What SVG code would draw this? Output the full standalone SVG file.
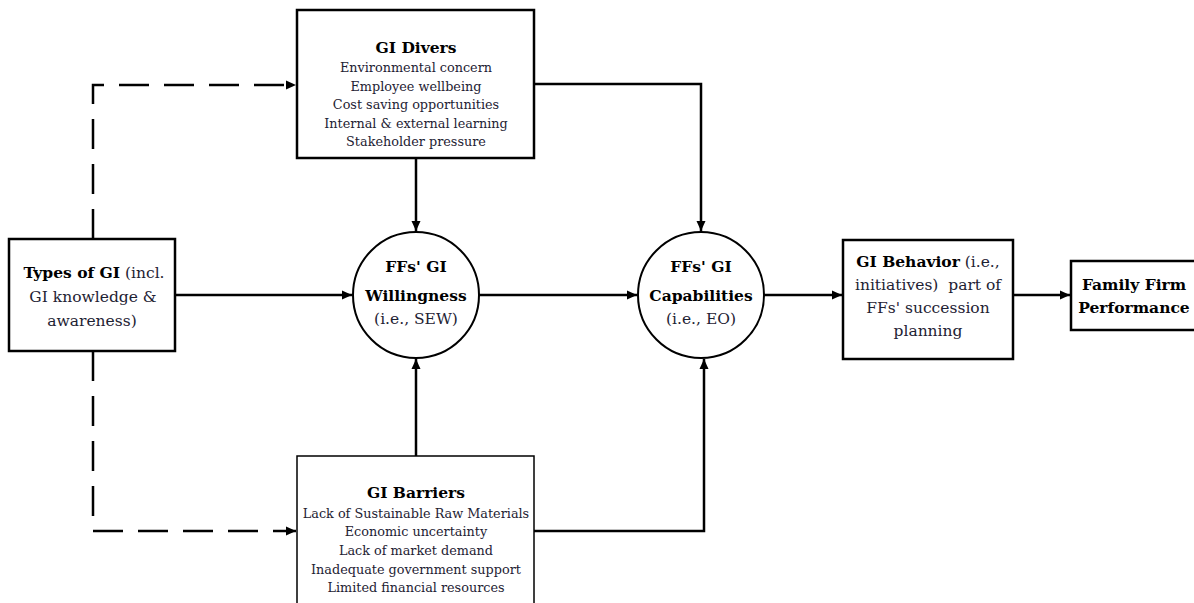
<svg xmlns="http://www.w3.org/2000/svg" width="1194" height="603" viewBox="0 0 1194 603">
<style>
.box{fill:#fff;stroke:#000;stroke-width:2.5}
.thin{fill:#fff;stroke:#000;stroke-width:1.5}
.circ{fill:#fff;stroke:#000;stroke-width:2}
.t{font-family:"DejaVu Serif","Liberation Serif",serif;text-anchor:middle;fill:#1e2233}
.b{font-weight:bold;fill:#000}
.s{font-size:12.8px}
.h{font-size:15.5px}
.m{font-size:15.5px}
.ln{fill:none;stroke:#000;stroke-width:2.5}
.dash{stroke-dasharray:30 15}
</style>
<defs>
<marker id="ah" markerWidth="12" markerHeight="12" refX="10" refY="5" orient="auto" markerUnits="userSpaceOnUse">
<path d="M0,0.5 L10,5 L0,9.5 Z" fill="#000"/>
</marker>
</defs>
<g id="connectors">
<path class="ln dash" d="M93,239 V85 H296" marker-end="url(#ah)"/>
<path class="ln dash" d="M93,351 V531 H296" marker-end="url(#ah)"/>
<path class="ln" d="M175,295 H352" marker-end="url(#ah)"/>
<path class="ln" d="M479,295 H637" marker-end="url(#ah)"/>
<path class="ln" d="M764,295 H842" marker-end="url(#ah)"/>
<path class="ln" d="M1013,295 H1070" marker-end="url(#ah)"/>
<path class="ln" d="M416,158 V231" marker-end="url(#ah)"/>
<path class="ln" d="M534,84 H701 V231" marker-end="url(#ah)"/>
<path class="ln" d="M416,456 V359" marker-end="url(#ah)"/>
<path class="ln" d="M534,531 H704 V359" marker-end="url(#ah)"/>
</g>
<g id="gi-divers">
<rect class="box" x="297" y="10" width="237" height="148"/>
<text class="t b h" x="416" y="53">GI Divers</text>
<text class="t s" x="416" y="72">Environmental concern</text>
<text class="t s" x="416" y="91">Employee wellbeing</text>
<text class="t s" x="416" y="109">Cost saving opportunities</text>
<text class="t s" x="416" y="128">Internal &amp; external learning</text>
<text class="t s" x="416" y="146">Stakeholder pressure</text>
</g>
<g id="gi-barriers">
<rect class="thin" x="297" y="456" width="237" height="160"/>
<text class="t b h" x="416" y="498">GI Barriers</text>
<text class="t s" x="416" y="518">Lack of Sustainable Raw Materials</text>
<text class="t s" x="416" y="536">Economic uncertainty</text>
<text class="t s" x="416" y="555">Lack of market demand</text>
<text class="t s" x="416" y="574">Inadequate government support</text>
<text class="t s" x="416" y="592">Limited financial resources</text>
</g>
<g id="types-of-gi">
<rect class="box" x="9" y="239" width="166" height="112"/>
<text class="t m" x="94" y="278"><tspan class="b">Types of GI</tspan> (incl.</text>
<text class="t m" x="93" y="302">GI knowledge &amp;</text>
<text class="t m" x="92" y="326">awareness)</text>
</g>
<g id="willingness">
<circle class="circ" cx="416" cy="295" r="63"/>
<text class="t b m" x="416" y="272">FFs' GI</text>
<text class="t b m" x="416" y="301">Willingness</text>
<text class="t m" x="416" y="324">(i.e., SEW)</text>
</g>
<g id="capabilities">
<circle class="circ" cx="701" cy="295" r="63"/>
<text class="t b m" x="701" y="272">FFs' GI</text>
<text class="t b m" x="701" y="301">Capabilities</text>
<text class="t m" x="701" y="324">(i.e., EO)</text>
</g>
<g id="gi-behavior">
<rect class="box" x="843" y="240" width="170" height="119"/>
<text class="t m" x="928" y="267"><tspan class="b">GI Behavior</tspan> (i.e.,</text>
<text class="t m" x="928" y="290">initiatives)&#160; part of</text>
<text class="t m" x="928" y="313">FFs' succession</text>
<text class="t m" x="928" y="336">planning</text>
</g>
<g id="family-firm">
<rect class="box" x="1071" y="261" width="130" height="69"/>
<text class="t b m" x="1134" y="290">Family Firm</text>
<text class="t b m" x="1134" y="313">Performance</text>
</g>
</svg>
